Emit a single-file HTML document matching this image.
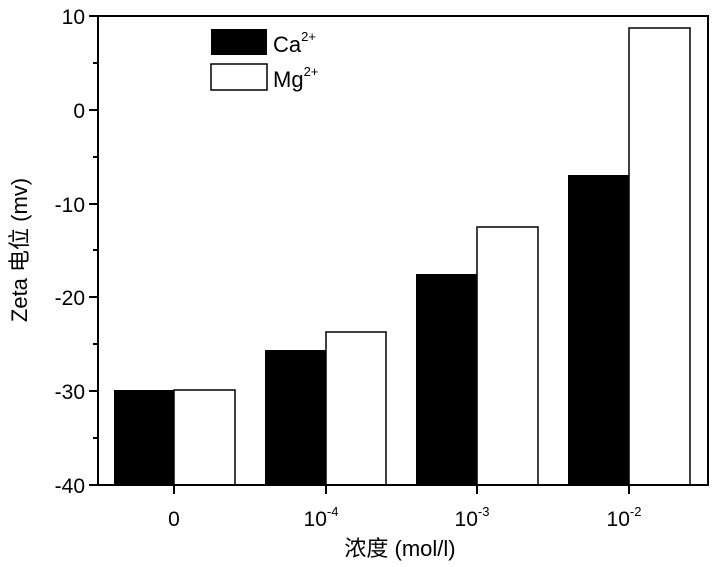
<!DOCTYPE html>
<html><head><meta charset="utf-8"><style>
body{margin:0;background:#fff}
text{font-family:"Liberation Sans","Noto Sans CJK SC",sans-serif;fill:#000}
</style></head><body>
<svg width="726" height="562" xmlns="http://www.w3.org/2000/svg">
<g fill="#000">
<rect x="114" y="390" width="60" height="95"/>
<rect x="265" y="350" width="61" height="135"/>
<rect x="416" y="274" width="61" height="211"/>
<rect x="568" y="175" width="61" height="310"/>
</g>
<g fill="#fff" stroke="#000" stroke-width="1.5">
<rect x="174" y="390" width="61" height="95"/>
<rect x="326" y="332" width="60" height="153"/>
<rect x="477" y="227" width="61" height="258"/>
<rect x="629" y="28" width="61" height="457"/>
</g>
<rect x="98" y="16" width="610" height="469" fill="none" stroke="#000" stroke-width="2"/>
<g stroke="#000" stroke-width="2">
<line x1="89" y1="16" x2="98" y2="16"/><line x1="89" y1="110" x2="98" y2="110"/>
<line x1="89" y1="204" x2="98" y2="204"/><line x1="89" y1="297" x2="98" y2="297"/>
<line x1="89" y1="391" x2="98" y2="391"/><line x1="89" y1="485" x2="98" y2="485"/>
<line x1="93" y1="63" x2="98" y2="63"/><line x1="93" y1="157" x2="98" y2="157"/>
<line x1="93" y1="250" x2="98" y2="250"/><line x1="93" y1="344" x2="98" y2="344"/>
<line x1="93" y1="438" x2="98" y2="438"/>
<line x1="174" y1="485" x2="174" y2="494"/><line x1="326" y1="485" x2="326" y2="494"/>
<line x1="477" y1="485" x2="477" y2="494"/><line x1="629" y1="485" x2="629" y2="494"/>
</g>
<g font-size="21" text-anchor="end">
<text x="85" y="24">10</text><text x="85" y="118">0</text><text x="85" y="212">-10</text>
<text x="85" y="305">-20</text><text x="85" y="399">-30</text><text x="85" y="493">-40</text>
</g>
<g font-size="21" text-anchor="middle">
<text x="174" y="526">0</text>
<text x="321" y="526">10<tspan font-size="13" dy="-10">-4</tspan></text>
<text x="472" y="526">10<tspan font-size="13" dy="-10">-3</tspan></text>
<text x="624" y="526">10<tspan font-size="13" dy="-10">-2</tspan></text>
<text x="400" y="556" font-size="22">浓度 (mol/l)</text>
<text transform="translate(27,250) rotate(-90)" font-size="22">Zeta 电位 (mv)</text>
</g>
<rect x="211" y="29" width="56" height="26" fill="#000"/>
<rect x="211" y="64" width="56" height="26" fill="#fff" stroke="#000" stroke-width="1.5"/>
<text x="273" y="52" font-size="22">Ca<tspan font-size="13" dy="-11">2+</tspan></text>
<text x="273" y="87" font-size="22">Mg<tspan font-size="13" dy="-11">2+</tspan></text>
</svg>
</body></html>
